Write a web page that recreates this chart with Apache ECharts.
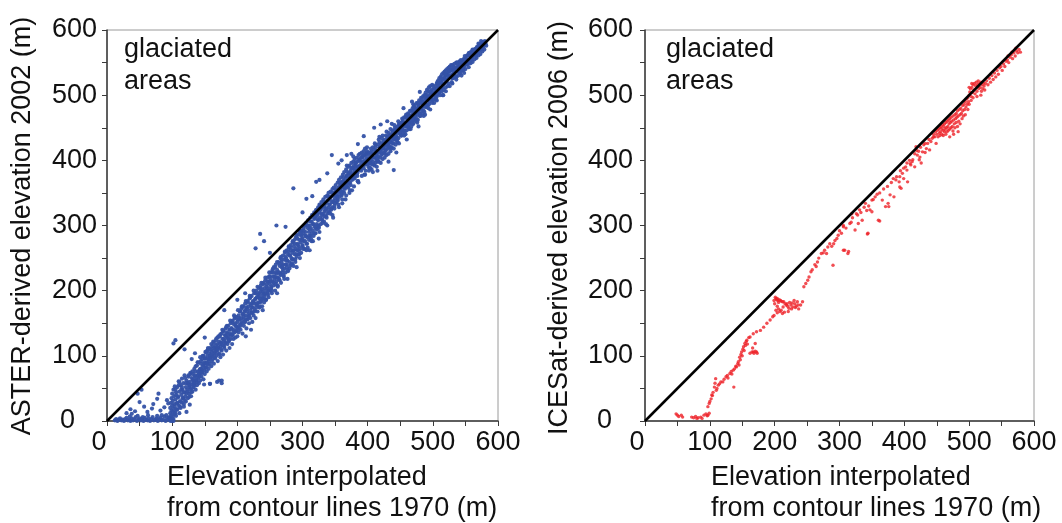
<!DOCTYPE html>
<html>
<head>
<meta charset="utf-8">
<script src="https://cdn.jsdelivr.net/npm/echarts@6/dist/echarts.min.js"></script>
<style>
html,body{margin:0;padding:0;background:#fff;}
#chart{width:1062px;height:523px;}
</style>
</head>
<body>
<div id="chart"></div>
<script>
// ---------- data ----------
const axisTicks = [0, 100, 200, 300, 400, 500, 600];
const diagonal = [[0, 0], [600, 600]];
const leftYTitle = 'ASTER-derived elevation 2002 (m)';
const rightYTitle = 'ICESat-derived elevation 2006 (m)';
const xTitle = 'Elevation interpolated\nfrom contour lines 1970 (m)';
const panelNote = 'glaciated\nareas';

// ASTER 2002 vs contour 1970 (blue)
const asterPoints = [
[12,1],[14,3],[16,0],[18,2],[20,4],[22,1],[24,2],[26,0],[28,3],[30,5],[32,1],[34,2],[36,0],[38,4],[40,1],[42,3],[44,6],[46,0],[48,2],[50,4],[52,1],[54,3],[56,0],[58,5],[60,2],[62,1],[64,4],[66,0],[68,3],[70,6],[72,1],[74,2],[76,4],[78,0],[80,3],[82,5],[84,1],[86,2],[88,7],[90,0],[92,3],[94,5],[96,1],[98,2],[35,7],[47,8],[63,9],[77,8],[91,9],[55,6],
[36,18],[38,11],[47,42],[50,29],[53,48],[57,22],[62,14],[69,19],[77,34],[79,42],[82,16],[84,9],[92,32],[94,27],[30,12],[43,15],[71,26],[88,21],
[96,6],[97,12],[97,20],[98,4],[98,28],[99,9],[99,16],[99,35],[100,2],[100,24],[100,42],[101,7],[101,14],[101,31],[102,19],[102,48],[102,3],[103,26],[103,38],[104,11],[104,53],[104,22],[100,0],[102,0],[98,0],
[105,15],[105,33],[106,44],[106,8],[107,27],[108,52],[108,18],[109,36],[110,61],[110,24],[111,12],[111,45],[112,30],[113,55],[113,20],[114,40],[115,65],[115,28],[116,48],[117,35],[117,58],[118,22],[119,44],[119,70],[120,38],[121,52],[121,30],[122,62],[123,45],[124,35],[124,57],[125,68],[126,42],[126,52],[127,60],[128,48],[128,74],[129,38],[130,56],[130,66],[122,14],[127,25],
[131,45],[132,62],[132,72],[133,52],[134,80],[134,58],[135,68],[136,48],[136,76],[137,62],[138,85],[138,55],[139,70],[140,66],[140,90],[141,58],[142,78],[142,72],[143,62],[144,88],[144,80],[145,68],[146,95],[146,74],[147,84],[148,64],[148,100],[149,78],[150,88],[150,72],[151,96],[151,82],[152,105],[153,90],[153,76],[154,100],[155,86],[155,110],[156,80],[156,95],[157,104],[158,88],[158,112],[159,98],[160,84],[160,106],[143,98],[149,56],
[161,92],[162,115],[162,100],[163,108],[164,88],[164,120],[165,104],[166,112],[166,96],[167,124],[168,108],[168,100],[169,118],[170,92],[170,128],[171,112],[172,104],[172,122],[173,130],[174,114],[174,98],[175,120],[176,108],[176,134],[177,126],[178,116],[178,102],[179,138],[180,124],[180,112],[181,132],[182,120],[182,142],[183,108],[184,128],[184,136],[185,118],[186,146],[186,130],[187,122],[188,140],[188,112],[189,134],[190,150],[190,126],[191,142],[192,132],[192,118],[193,154],[194,140],[194,126],[195,148],[196,136],[196,158],[197,128],[198,146],[198,160],[199,138],[200,152],[200,130],[176,58],[172,62],[158,57],
[201,144],[202,162],[202,136],[203,156],[204,148],[204,168],[205,140],[206,158],[206,172],[207,150],[208,164],[208,134],[209,176],[210,156],[210,146],[211,168],[212,180],[212,152],[213,162],[214,142],[214,174],[215,168],[216,156],[216,184],[217,176],[218,162],[218,150],[219,188],[220,170],[220,158],[221,180],[222,166],[222,192],[223,152],[224,184],[224,174],[225,162],[226,196],[226,180],[227,170],[228,188],[228,158],[229,200],[230,178],[230,190],[231,168],[232,194],[232,182],[233,204],[234,174],[234,188],[235,198],[236,184],[236,208],[237,192],[238,176],[238,202],[239,188],[240,212],[240,196],[241,182],[242,204],[242,192],[243,216],[244,186],[244,200],[245,210],[246,196],[246,220],[247,204],[248,190],[248,214],[249,222],[250,200],[250,210],[213,130],[221,140],[239,170],
[251,218],[252,206],[252,228],[253,196],[254,214],[254,232],[255,222],[256,208],[256,236],[257,218],[258,228],[258,200],[259,240],[260,214],[260,226],[261,232],[262,220],[262,208],[263,244],[264,228],[264,218],[265,238],[266,224],[266,250],[267,212],[268,236],[268,244],[269,228],[270,254],[270,240],[271,222],[272,248],[272,234],[273,258],[274,240],[274,228],[275,250],[276,262],[276,236],[277,246],[278,256],[278,230],[279,266],[280,244],[280,254],[281,238],[282,262],[282,270],[283,250],[284,258],[284,242],[285,274],[286,262],[286,248],[287,268],[288,256],[288,278],[289,244],[290,264],[290,282],[291,252],[292,272],[292,262],[293,286],[294,268],[294,256],[295,278],[296,290],[296,264],[297,274],[298,284],[298,258],[299,292],[300,270],[300,280],[261,196],[277,218],[291,236],
[301,288],[302,276],[302,296],[303,264],[304,284],[304,300],[305,290],[306,272],[306,304],[307,282],[308,296],[308,266],[309,308],[310,290],[310,278],[311,300],[312,312],[312,284],[313,296],[314,276],[314,306],[315,316],[316,292],[316,302],[317,284],[318,310],[318,320],[319,298],[320,288],[320,314],[321,324],[322,302],[322,294],[323,316],[324,328],[324,308],[325,298],[326,320],[326,332],[327,312],[328,302],[328,324],[329,336],[330,316],[330,308],[331,328],[332,318],[332,340],[333,306],[334,330],[334,322],[335,344],[336,314],[336,334],[337,326],[338,346],[338,318],[339,338],[340,328],[340,350],[341,320],[342,340],[342,332],[343,352],[344,324],[344,344],[345,336],[346,356],[346,328],[347,346],[348,338],[348,358],[349,330],[350,350],[350,342],[311,262],[325,280],[338,300],[347,312],
[351,362],[352,336],[352,354],[353,346],[354,366],[354,340],[355,358],[356,350],[356,370],[357,344],[358,362],[358,354],[359,374],[360,348],[360,366],[361,358],[362,378],[362,352],[363,368],[364,362],[364,382],[365,356],[366,372],[366,364],[367,386],[368,360],[368,376],[369,368],[370,390],[370,364],[371,380],[372,372],[372,392],[373,366],[374,384],[374,376],[375,396],[376,370],[376,388],[377,380],[378,398],[378,374],[379,392],[380,384],[380,402],[381,376],[382,396],[382,388],[383,404],[384,380],[384,398],[385,390],[386,408],[386,384],[387,400],[388,392],[388,410],[389,386],[390,404],[390,396],[391,412],[392,390],[392,406],[393,398],[394,414],[394,392],[395,408],[396,400],[396,418],[397,394],[398,410],[398,404],[399,420],[400,398],[400,412],[361,334],[372,350],[385,368],[395,378],[368,392],[375,410],
[401,390],[401,402],[402,384],[402,408],[403,396],[404,412],[404,388],[405,400],[406,394],[406,414],[407,404],[408,382],[408,398],[409,410],[410,392],[410,416],[411,404],[412,396],[412,420],[413,410],[414,400],[414,390],[415,414],[416,406],[416,424],[417,398],[418,412],[418,420],[419,404],[420,416],[420,396],[421,426],[422,410],[422,418],[423,402],[424,420],[424,430],[425,412],[426,404],[426,424],[427,432],[428,416],[428,422],[429,408],[430,428],[430,436],[431,418],[432,426],[432,410],[433,438],[434,422],[434,430],[435,414],[436,440],[436,428],[437,420],[438,434],[438,444],[439,426],[440,436],[440,418],[441,446],[442,432],[442,440],[443,424],[444,448],[444,436],[445,428],[446,442],[446,452],[447,434],[448,446],[448,426],[449,454],[450,440],[450,448],[415,384],[432,398],[444,412],[418,436],[437,456],
[451,446],[452,438],[452,458],[453,450],[454,442],[454,462],[455,454],[456,446],[456,466],[457,458],[458,440],[458,452],[459,468],[460,456],[460,446],[461,464],[462,452],[462,472],[463,460],[464,448],[464,468],[465,458],[466,476],[466,464],[467,452],[468,470],[468,460],[469,480],[470,466],[470,456],[471,474],[472,464],[472,484],[473,470],[474,460],[474,478],[475,488],[476,470],[476,480],[477,462],[478,484],[478,474],[479,492],[480,478],[480,468],[481,488],[482,480],[482,496],[483,472],[484,490],[484,482],[485,498],[486,476],[486,488],[487,500],[488,492],[488,482],[489,504],[490,486],[490,496],[491,508],[492,494],[492,484],[493,506],[494,498],[494,512],[495,490],[496,504],[496,514],[497,500],[498,508],[498,494],[499,516],[500,502],[500,492],[460,432],[478,452],[470,486],[488,470],
[501,500],[502,510],[502,488],[503,502],[504,514],[504,494],[505,506],[506,518],[506,498],[507,510],[508,522],[508,502],[509,514],[510,526],[510,506],[511,518],[512,528],[512,510],[513,520],[514,532],[514,512],[515,524],[516,534],[516,516],[517,526],[518,536],[518,518],[519,530],[520,538],[520,522],[521,532],[522,524],[522,540],[523,534],[524,526],[524,542],[525,536],[526,528],[526,544],[527,538],[528,530],[528,546],[529,540],[530,532],[530,546],[531,526],[532,540],[532,534],[533,548],[534,530],[534,542],[535,536],[536,550],[536,528],[537,542],[538,536],[538,550],[539,530],[540,544],[540,538],[541,552],[542,534],[542,546],[543,540],[544,552],[544,530],[545,546],[546,538],[546,554],[547,544],[548,534],[548,552],[549,546],[550,540],[550,556],[520,506],[530,518],[515,500],
[551,555],[552,547],[553,561],[554,553],[555,543],[556,565],[557,555],[558,549],[559,567],[560,559],[561,551],[562,569],[563,561],[564,555],[565,571],[566,563],[567,557],[568,573],[569,567],[570,561],[571,575],[572,569],[573,563],[574,579],[575,571],[576,567],[577,581],[578,575],[579,570],[580,583],[581,579],[582,576],[570,579],[574,583],
[105,124],[102,119],[119,110],[228,265],[235,287],[241,276],[286,357],[321,367],[326,370],[306,341],[345,408],[368,408],[378,406],[394,437],[430,460],[274,298],[440,385],[169,60],[176,62],[158,57],[260,300],[300,320],[315,345],[338,380],[355,395],[360,400],[385,425],[410,450],[420,455],[250,258],[200,186],[180,170],[150,128],[130,95],[135,104],[212,196],[468,490],[455,480],[480,505]
];

// additional ASTER points filling the dense band (read per 2 m of x)
const asterBandA = [
[104,12],[106,40],[108,28],[110,55],[112,22],[114,48],[116,35],[118,26],[120,66],[122,42],[124,58],[126,37],[128,72],[130,50],[132,64],[134,55],[136,84],[138,60],[140,76],[142,68],[144,92],[146,79],[148,86],[150,96],[152,82],[154,108],[156,92],[158,100],[160,118],[162,95],[164,112],[166,105],[168,127],[170,113],[172,102],[174,133],[176,120],[178,138],[180,115],[182,131],[184,146],[186,126],[188,140],[190,132],[192,152],[194,137],[196,160],[198,145],[200,156],
[202,142],[204,168],[206,152],[208,175],[210,160],[212,170],[214,156],[216,182],[218,165],[220,190],[222,174],[224,182],[226,168],[228,196],[230,180],[232,190],[234,176],[236,204],[238,186],[240,210],[242,195],[244,186],[246,214],[248,200],[250,222],[252,204],[254,228],[256,212],[258,236],[260,220],[262,206],[264,242],[266,226],[268,248],[270,232],[272,218],[274,252],[276,240],[278,260],[280,234],[282,266],[284,248],[286,238],[288,272],[290,256],[292,280],[294,262],[296,250],[298,286],[300,268],
[302,292],[304,276],[306,262],[308,300],[310,284],[312,306],[314,288],[316,276],[318,312],[320,296],[322,318],[324,300],[326,290],[328,326],[330,310],[332,330],[334,314],[336,302],[338,338],[340,322],[342,344],[344,326],[346,316],[348,350],[350,334],[352,352],[354,338],[356,328],[358,362],[360,346],[362,368],[364,350],[366,340],[368,376],[370,358],[372,380],[374,362],[376,354],[378,388],[380,372],[382,392],[384,376],[386,366],[388,400],[390,384],[392,404],[394,388],[396,378],[398,410],[400,394],
[402,412],[404,396],[406,386],[408,420],[410,404],[412,424],[414,408],[416,398],[418,428],[420,414],[422,434],[424,418],[426,410],[428,438],[430,424],[432,442],[434,428],[436,418],[438,446],[440,432],[442,450],[444,436],[446,428],[448,456],[450,442],[452,458],[454,446],[456,438],[458,466],[460,452],[462,470],[464,456],[466,448],[468,476],[470,462],[472,480],[474,466],[476,458],[478,486],[480,472],[482,490],[484,476],[486,468],[488,496],[490,482],[492,500],[494,486],[496,478],[498,506],[500,494],
[502,510],[504,498],[506,492],[508,518],[510,504],[512,520],[514,506],[516,500],[518,526],[520,512],[522,530],[524,518],[526,514],[528,538],[530,526],[532,540],[534,528],[536,524],[538,546],[540,536],[542,550],[544,540],[546,538],[548,556],[550,548],[552,560],[554,552],[556,550],[558,564],[560,558],[562,568],[564,562],[566,560],[568,574],[570,568],[572,576],[574,574],[576,578],[578,582]
];
const asterBandB = [
[105,48],[107,18],[109,38],[111,60],[113,30],[115,52],[117,44],[119,32],[121,58],[123,48],[125,70],[127,54],[129,44],[131,76],[133,58],[135,70],[137,64],[139,90],[141,72],[143,80],[145,74],[147,100],[149,90],[151,106],[153,88],[155,112],[157,96],[159,110],[161,102],[163,122],[165,98],[167,116],[169,108],[171,130],[173,118],[175,110],[177,140],[179,126],[181,120],[183,144],[185,134],[187,124],[189,154],[191,142],[193,132],[195,162],[197,150],[199,140],
[201,170],[203,158],[205,146],[207,176],[209,164],[211,152],[213,184],[215,172],[217,160],[219,192],[221,178],[223,166],[225,200],[227,186],[229,174],[231,206],[233,196],[235,182],[237,212],[239,198],[241,188],[243,220],[245,206],[247,194],[249,228],[251,214],[253,200],[255,234],[257,222],[259,210],[261,244],[263,228],[265,216],[267,252],[269,238],[271,224],[273,260],[275,246],[277,232],[279,268],[281,254],[283,240],[285,276],[287,262],[289,248],[291,284],[293,270],[295,256],[297,292],[299,278],
[301,264],[303,300],[305,284],[307,272],[309,308],[311,294],[313,280],[315,316],[317,302],[319,288],[321,322],[323,310],[325,296],[327,330],[329,318],[331,304],[333,336],[335,324],[337,312],[339,344],[341,332],[343,318],[345,350],[347,336],[349,326],[351,356],[353,344],[355,332],[357,366],[359,352],[361,340],[363,374],[365,358],[367,346],[369,382],[371,366],[373,354],[375,388],[377,372],[379,360],[381,396],[383,382],[385,368],[387,402],[389,390],[391,376],[393,408],[395,396],[397,384],[399,414],
[401,400],[403,388],[405,418],[407,408],[409,394],[411,426],[413,414],[415,402],[417,432],[419,420],[421,408],[423,438],[425,426],[427,414],[429,444],[431,432],[433,420],[435,448],[437,438],[439,426],[441,454],[443,444],[445,432],[447,460],[449,450],[451,438],[453,464],[455,456],[457,444],[459,470],[461,462],[463,450],[465,476],[467,468],[469,456],[471,482],[473,474],[475,462],[477,488],[479,480],[481,468],[483,494],[485,486],[487,474],[489,500],[491,492],[493,480],[495,506],[497,498],[499,488],
[501,514],[503,504],[505,494],[507,520],[509,512],[511,500],[513,526],[515,518],[517,508],[519,532],[521,524],[523,514],[525,538],[527,530],[529,520],[531,544],[533,536],[535,528],[537,550],[539,542],[541,534],[543,554],[545,548],[547,542],[549,560],[551,554],[553,548],[555,564],[557,560],[559,554],[561,570],[563,564],[565,568],[567,572],[569,566],[571,578],[573,572],[575,580],[577,576]
];

// ICESat 2006 vs contour 1970 (red)
const icesatPoints = [
[48,11],[50,9],[52,7],[56,9],[58,6],[72,6],[75,5],[78,7],[80,4],[82,5],[86,6],[88,4],[91,9],[94,11],[96,8],[97,9],[99,12],
[97,22],[99,27],[100,30],[102,34],[103,40],[104,39],[105,44],[107,52],[108,58],[109,65],[110,47],[111,50],[113,55],[115,57],[117,60],[120,60],[122,64],[125,68],[127,70],[128,66],[131,73],[133,76],[134,72],[136,78],[137,52],[138,80],[140,84],[141,83],[143,88],[144,91],[145,86],[146,98],[147,94],[148,102],[149,106],[150,100],[151,110],[152,114],[153,108],[154,119],[155,116],[156,122],[157,124],[158,118],
[162,104],[165,106],[167,106],[168,104],[170,107],[172,106],[173,104],[170,119],[166,112],[160,128],
[162,129],[167,134],[172,137],[178,139],[183,144],[188,150],[193,155],[197,160],[199,162],
[199,185],[200,180],[201,190],[202,188],[203,186],[204,188],[205,185],[206,182],[207,186],[209,185],[210,184],[212,183],[214,183],[216,180],[218,178],[219,180],[220,176],[222,173],[223,182],[225,178],[226,172],[228,175],[230,185],[231,180],[233,176],[235,183],[237,172],[240,178],[243,183],[202,170],[204,166],[206,172],[208,168],[210,170],[212,165],[215,167],[213,175],[204,176],[221,168],[227,181],[232,174],[236,178],
[245,206],[248,211],[251,216],[253,221],[256,229],[264,237],[266,244],[272,257],[277,262],[282,267],[290,239],[293,277],[298,285],[303,288],[306,298],[308,262],[313,257],[316,303],[324,293],[326,318],[331,324],[335,308],[340,334],[343,287],[347,324],[350,339],[355,344],[360,308],[366,339],[371,329],[376,329],[384,344],[387,370],[392,367],[395,357],[397,380],[402,390],[405,367],[410,393],[413,401],[418,421],[420,408],[423,401],[426,396],[428,413],[434,418],[439,416],[441,429],[447,436],[449,426],
[258,232],[262,240],[268,250],[275,258],[285,272],[288,268],[296,280],[300,292],[310,296],[318,305],[320,312],[328,316],[333,320],[338,328],[345,330],[352,340],[358,348],[362,350],[368,356],[374,360],[380,366],[383,372],[388,375],[394,384],[399,388],[404,396],[408,400],[412,398],[416,410],[422,414],[425,420],[430,424],[432,412],[436,426],[438,432],[443,434],[445,440],[448,444],
[404,385],[409,395],[416,390],[419,415],[424,405],[432,426],[445,436],[393,359],[399,372],[393,375],[375,334],[378,347],[362,307],[350,321],[342,323],[344,288],[329,303],[319,318],[306,300],[291,272],[280,257],[306,262],[314,260],
[450,440],[451,446],[452,436],[453,448],[454,442],[455,450],[455,438],[456,444],[457,452],[458,440],[458,448],[459,455],[460,446],[460,438],[461,452],[462,444],[462,456],[463,448],[464,440],[464,458],[465,450],[466,444],[466,460],[467,452],[468,446],[468,462],[469,456],[470,448],[470,464],[471,458],[472,450],[472,466],[473,460],[474,452],[475,468],[475,445],[476,462],[477,456],[478,470],[478,450],[479,464],[480,458],[480,472],[481,466],[482,452],[482,476],[483,468],[484,460],[485,478],[486,470],[486,456],[487,480],[488,472],[489,464],[490,484],[490,476],[491,468],[492,486],[493,478],[494,470],[494,490],[495,482],[496,494],[497,486],[498,478],[498,496],[499,490],[500,500],[500,486],[476,440],[483,444],[470,436],
[501,505],[502,510],[503,498],[504,512],[505,504],[506,516],[507,508],[508,518],[509,502],[510,514],[511,520],[512,506],[513,516],[514,522],[515,510],[516,518],[517,512],[518,520],[519,506],[520,516],[521,510],[522,519],[523,514],[524,508],[525,518],[503,492],[506,496],[512,498],[518,500],[500,512],[504,518],
[527,522],[529,516],[531,526],[533,520],[535,530],[537,524],[539,534],[541,528],[543,538],[545,532],[547,542],[549,544],[551,538],[553,548],[555,544],[557,552],[559,554],[561,550],[563,558],[565,562],[567,556],[569,565],[571,560],[573,568],[575,565],[577,570],[579,566],[572,572],[566,566],[560,560]
];

// ---------- chart ----------
const FONT = '"Liberation Sans", Arial, Helvetica, sans-serif';
const FS = 27;
const axisMin = axisTicks[0], axisMax = axisTicks[axisTicks.length - 1];

function xAxisCfg(gi) {
  return {
    gridIndex: gi, type: 'value', min: axisMin, max: axisMax, interval: 50,
    axisLine: {show: true, onZero: false, lineStyle: {color: '#3a3a3a', width: 1.5}},
    axisTick: {show: true, length: 5, lineStyle: {color: '#3a3a3a', width: 1}},
    splitLine: {show: false},
    axisLabel: {
      margin: 8, fontSize: FS, fontFamily: FONT, color: '#111',
      formatter: v => v === 0 ? '{z|0}' : (axisTicks.indexOf(v) >= 0 ? String(v) : ''),
      rich: {z: {fontSize: FS, fontFamily: FONT, color: '#111', padding: [0, 16, 0, 0]}}
    }
  };
}
function yAxisCfg(gi, margin, zeroPad) {
  return {
    gridIndex: gi, type: 'value', min: axisMin, max: axisMax, interval: 50,
    axisLine: {show: true, onZero: false, lineStyle: {color: '#3a3a3a', width: 1.5}},
    axisTick: {show: true, length: 5, lineStyle: {color: '#3a3a3a', width: 1}},
    splitLine: {show: false},
    axisLabel: {
      margin: margin, fontSize: FS, fontFamily: FONT, color: '#111',
      formatter: v => v === 0 ? '{z|0}' : (axisTicks.indexOf(v) >= 0 ? String(v) : ''),
      rich: {z: {fontSize: FS, fontFamily: FONT, color: '#111', padding: [0, zeroPad, 0, 0]}}
    }
  };
}
function txt(x, y, text, rot, lh) {
  return {
    type: 'text', x: x, y: y, rotation: rot || 0, silent: true,
    style: {text: text, fontSize: FS, fontFamily: FONT, fill: '#111',
            align: rot ? 'center' : 'left', verticalAlign: 'middle', lineHeight: lh || FS}
  };
}

const chart = echarts.init(document.getElementById('chart'), null, {renderer: 'canvas'});
chart.setOption({
  animation: false,
  backgroundColor: '#ffffff',
  grid: [
    {left: 107, top: 30, width: 391, height: 391, show: true, borderColor: '#9a9a9a', borderWidth: 1, backgroundColor: 'transparent'},
    {left: 645, top: 30, width: 389, height: 391, show: true, borderColor: '#9a9a9a', borderWidth: 1, backgroundColor: 'transparent'}
  ],
  xAxis: [xAxisCfg(0), xAxisCfg(1)],
  yAxis: [yAxisCfg(0, 10, 22), yAxisCfg(1, 12, 21)],
  series: [
    {type: 'scatter', xAxisIndex: 0, yAxisIndex: 0, data: asterPoints.concat(asterBandA, asterBandB),
     symbol: 'circle', symbolSize: 4.2, large: false,
     itemStyle: {color: '#3452a6', opacity: 0.95}, silent: true, z: 2},
    {type: 'line', xAxisIndex: 0, yAxisIndex: 0, data: diagonal, symbol: 'none',
     lineStyle: {color: '#000', width: 2.5}, silent: true, z: 5},
    {type: 'scatter', xAxisIndex: 1, yAxisIndex: 1, data: icesatPoints, symbol: 'circle', symbolSize: 3.4,
     itemStyle: {color: '#ee2228'}, silent: true, z: 2},
    {type: 'line', xAxisIndex: 1, yAxisIndex: 1, data: diagonal, symbol: 'none',
     lineStyle: {color: '#000', width: 2.5}, silent: true, z: 5}
  ],
  graphic: [
    txt(23, 226, leftYTitle, Math.PI / 2),
    txt(560, 228, rightYTitle, Math.PI / 2),
    txt(167, 493, xTitle, 0, 31),
    txt(711, 493, xTitle, 0, 31),
    txt(124, 66, panelNote, 0, 32),
    txt(666, 66, panelNote, 0, 32)
  ]
});
</script>
</body>
</html>
